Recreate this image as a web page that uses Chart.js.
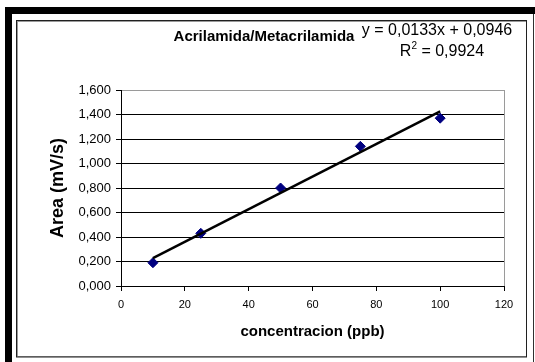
<!DOCTYPE html>
<html>
<head>
<meta charset="utf-8">
<script src="https://cdn.jsdelivr.net/npm/chart.js@4/dist/chart.umd.min.js"></script>
<style>
  html, body { margin: 0; padding: 0; background: #ffffff; }
  #wrap { width: 535px; height: 362px; }
</style>
</head>
<body>
<div id="wrap"><canvas id="c" width="535" height="362"></canvas></div>
<script>
// Calibration data: concentration (ppb) vs peak area (mV/s)
const concentracion = [10, 25, 50, 75, 100];
const area = [0.19, 0.43, 0.80, 1.14, 1.37];

// Linear fit y = slope*x + intercept
const slope = 0.0133;
const intercept = 0.0946;
const r2 = 0.9924;

const yTickLabels = ['0,000', '0,200', '0,400', '0,600', '0,800', '1,000', '1,200', '1,400', '1,600'];
const xTickLabels = ['0', '20', '40', '60', '80', '100', '120'];

const chartTitle = 'Acrilamida/Metacrilamida';
const xTitle = 'concentracion (ppb)';
const yTitle = 'Area (mV/s)';

const fmt = v => v.toFixed(4).replace('.', ',');

const points = concentracion.map((x, i) => ({ x: x, y: area[i] }));
const xMin = Math.min(...concentracion), xMax = Math.max(...concentracion);
const fitLine = [xMin, xMax].map(x => ({ x: x, y: slope * x + intercept }));

const FONT = 'Arial, "Liberation Sans", Helvetica, sans-serif';

// Page frame: heavy black edge, inner bordered panel
const framePlugin = {
  id: 'frame',
  beforeDraw(chart) {
    const ctx = chart.ctx;
    ctx.save();
    ctx.fillStyle = '#ffffff';
    ctx.fillRect(0, 0, chart.width, chart.height);
    ctx.fillStyle = '#000000';
    ctx.fillRect(5, 7, chart.width - 5, 7);
    ctx.fillRect(5, 7, 7, chart.height - 7);
    // thin line on the right side
    ctx.fillStyle = '#303030';
    ctx.fillRect(533, 14, 1, chart.height - 14);
    // inner panel border with soft shadow
    ctx.strokeStyle = '#9a9a9a';
    ctx.lineWidth = 1;
    ctx.strokeRect(17.5, 21.5, 509, 335);
    ctx.strokeStyle = '#202020';
    ctx.strokeRect(16.5, 20.5, 510, 336.5);
    ctx.restore();
  }
};

// Chart title and regression equation
const textPlugin = {
  id: 'texts',
  afterDraw(chart) {
    const ctx = chart.ctx;
    ctx.save();
    ctx.fillStyle = '#000000';
    ctx.textBaseline = 'middle';
    ctx.textAlign = 'center';
    ctx.font = 'bold 15px ' + FONT;
    ctx.fillText(chartTitle, 264, 37);

    ctx.font = '16px ' + FONT;
    ctx.fillText('y = ' + fmt(slope) + 'x + ' + fmt(intercept), 437, 31);

    // R² line with superscript
    const rest = ' = ' + fmt(r2);
    ctx.font = '16px ' + FONT;
    const wR = ctx.measureText('R').width;
    const wRest = ctx.measureText(rest).width;
    ctx.font = '10px ' + FONT;
    const wSup = ctx.measureText('2').width;
    const total = wR + wSup + wRest;
    let x = 442 - total / 2;
    ctx.textAlign = 'left';
    ctx.font = '16px ' + FONT;
    ctx.fillText('R', x, 52);
    x += wR;
    ctx.font = '10px ' + FONT;
    ctx.fillText('2', x, 46);
    x += wSup;
    ctx.font = '16px ' + FONT;
    ctx.fillText(rest, x, 52);
    ctx.restore();
  }
};

new Chart(document.getElementById('c'), {
  type: 'scatter',
  data: {
    datasets: [
      {
        label: 'Ajuste lineal',
        type: 'line',
        data: fitLine,
        borderColor: '#000000',
        borderWidth: 2.5,
        pointRadius: 0,
        fill: false,
        order: 0
      },
      {
        label: 'Area',
        data: points,
        pointStyle: 'rectRot',
        pointRadius: 5,
        pointBackgroundColor: '#000080',
        pointBorderColor: '#000080',
        pointBorderWidth: 1,
        order: 1
      }
    ]
  },
  options: {
    responsive: false,
    animation: false,
    events: [],
    layout: { padding: { left: 0, top: 90, right: 31, bottom: 0 } },
    plugins: {
      legend: { display: false },
      title: { display: false },
      tooltip: { enabled: false }
    },
    scales: {
      x: {
        type: 'linear',
        min: 0,
        max: 120,
        ticks: {
          stepSize: 20,
          padding: 7,
          color: '#000000',
          font: { family: FONT, size: 11 },
          callback: (v) => xTickLabels[Math.round(v / 20)]
        },
        grid: {
          drawOnChartArea: true,
          color: (c) => (c.tick && c.tick.value === 120 ? '#9a9a9a' : 'rgba(0,0,0,0)'),
          tickColor: '#000000',
          tickLength: 5,
          lineWidth: 1
        },
        border: { display: true, color: '#000000', width: 1 },
        title: {
          display: true,
          text: xTitle,
          color: '#000000',
          font: { family: FONT, size: 15, weight: 'bold' },
          padding: { top: 0, bottom: 21 }
        },
        afterFit: (s) => { s.height = 76; }
      },
      y: {
        type: 'linear',
        min: 0,
        max: 1.6,
        ticks: {
          stepSize: 0.2,
          padding: 5,
          color: '#000000',
          font: { family: FONT, size: 13 },
          callback: (v) => yTickLabels[Math.round(v / 0.2)]
        },
        grid: {
          color: (c) => (c.tick && Math.abs(c.tick.value - 1.6) < 1e-6 ? '#9a9a9a' : '#000000'),
          tickColor: '#000000',
          tickLength: 5,
          lineWidth: 1
        },
        border: { display: true, color: '#000000', width: 1 },
        title: {
          display: true,
          text: yTitle,
          color: '#000000',
          font: { family: FONT, size: 18, weight: 'bold' },
          padding: { top: 47, bottom: 0 }
        },
        afterFit: (s) => { s.width = 121; }
      }
    }
  },
  plugins: [framePlugin, textPlugin]
});
</script>
</body>
</html>
